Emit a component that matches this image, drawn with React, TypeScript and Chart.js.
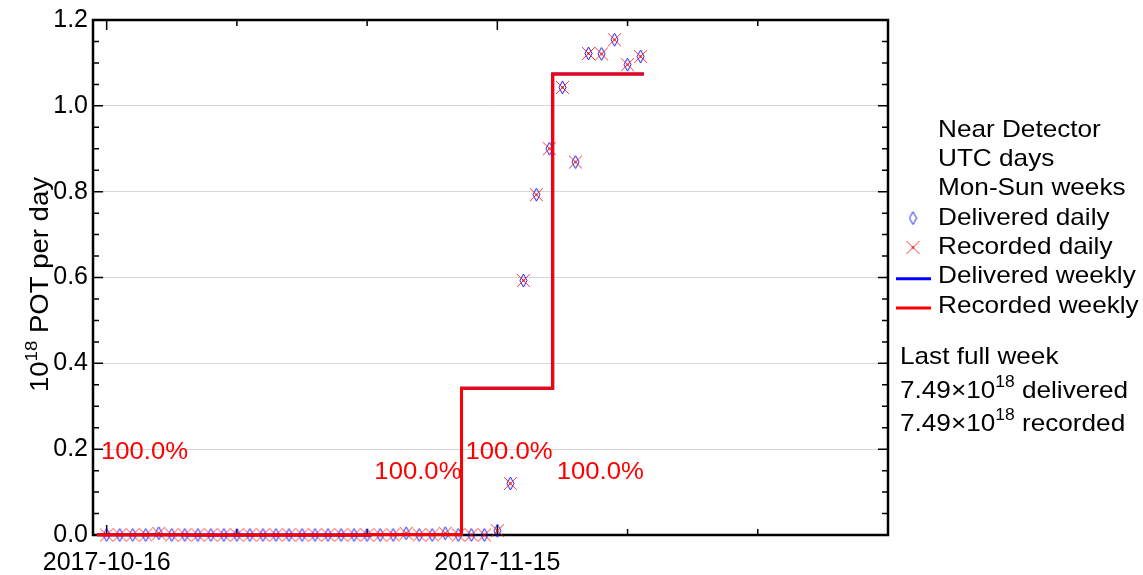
import React, { useEffect, useRef } from 'react';
import { Chart, registerables } from 'chart.js';

Chart.register(...registerables);

// ---------------- data ----------------
const startDate = '2017-10-16';
const dailyDays = [
  0, 1, 2, 3, 4, 5, 6, 7, 8, 9, 10, 11, 12, 13, 14, 15, 16, 17, 18, 19, 20,
  21, 22, 23, 24, 25, 26, 27, 28, 29, 30, 31, 32, 33, 34, 35, 36, 37, 38, 39, 40, 41,
];
const deliveredDaily = [
  0, 0, 0, 0, 0.004, 0, 0, 0, 0, 0, 0, 0, 0, 0, 0, 0, 0, 0, 0, 0, 0,
  0, 0, 0.004, 0, 0, 0.004, 0, 0, 0, 0.01, 0.12, 0.593, 0.793, 0.9, 1.043, 0.869, 1.122, 1.121, 1.154, 1.096, 1.115,
];
const recordedDaily = [
  0, 0, 0, 0, 0.004, 0, 0, 0, 0, 0, 0, 0, 0, 0, 0, 0, 0, 0, 0, 0, 0,
  0, 0, 0.004, 0, 0, 0.004, 0, 0, 0, 0.01, 0.12, 0.593, 0.793, 0.9, 1.043, 0.869, 1.122, 1.121, 1.154, 1.096, 1.115,
];
const weekStarts = ['2017-10-16', '2017-10-23', '2017-10-30', '2017-11-06', '2017-11-13', '2017-11-20'];
const deliveredWeekly = [0.0006, 0, 0, 0.0011, 0.342, 1.074];
const recordedWeekly = [0.0006, 0, 0, 0.0011, 0.342, 1.074];
const xTickDays = [0, 10, 20, 30, 40, 50, 60];
const xLabelDays = [0, 30];
const yTickValues = [0, 0.2, 0.4, 0.6, 0.8, 1.0, 1.2];
const infoLines = ['Near Detector', 'UTC days', 'Mon-Sun weeks'];
const seriesNames = ['Delivered daily', 'Recorded daily', 'Delivered weekly', 'Recorded weekly'];
const lastWeekTitle = 'Last full week';
const lastWeekDelivered = '7.49';
const lastWeekRecorded = '7.49';
const lastWeekExponent = '18';

// ---------------- helpers ----------------
const FONT = '"Liberation Sans", Arial, Helvetica, sans-serif';
const DAY_MS = 86400000;
const WEEK_SHIFT = -0.75;
const t0 = Date.parse(startDate + 'T00:00:00Z');
const dayOf = (s: string) => (Date.parse(s + 'T00:00:00Z') - t0) / DAY_MS;
const fmtDay = (d: number) => new Date(t0 + d * DAY_MS).toISOString().slice(0, 10);

function makeDiamond(): HTMLCanvasElement {
  const c = document.createElement('canvas');
  c.width = 9;
  c.height = 15;
  const g = c.getContext('2d')!;
  g.strokeStyle = '#1a1aff';
  g.lineWidth = 1;
  g.beginPath();
  g.moveTo(4.5, 1);
  g.lineTo(8, 7.5);
  g.lineTo(4.5, 14);
  g.lineTo(1, 7.5);
  g.closePath();
  g.stroke();
  return c;
}

function makeCross(): HTMLCanvasElement {
  const c = document.createElement('canvas');
  c.width = 15;
  c.height = 15;
  const g = c.getContext('2d')!;
  g.strokeStyle = 'rgba(255,30,30,0.9)';
  g.lineWidth = 1;
  g.beginPath();
  g.moveTo(1, 1);
  g.lineTo(14, 14);
  g.moveTo(14, 1);
  g.lineTo(1, 14);
  g.stroke();
  g.fillStyle = '#d00000';
  g.fillRect(6.5, 6.5, 2, 2);
  return c;
}

type Part = { t: string; sup?: boolean };

function drawRich(ctx: CanvasRenderingContext2D, parts: Part[], x: number, y: number, size: number, sx: number, color: string) {
  ctx.save();
  ctx.translate(x, y);
  ctx.scale(sx, 1);
  ctx.fillStyle = color;
  ctx.textAlign = 'left';
  ctx.textBaseline = 'alphabetic';
  let cx = 0;
  for (const p of parts) {
    const fs = p.sup ? Math.round(size * 0.68) : size;
    ctx.font = `${fs}px ${FONT}`;
    ctx.fillText(p.t, cx, p.sup ? -size * 0.45 : 0);
    cx += ctx.measureText(p.t).width;
  }
  ctx.restore();
}

export default function App() {
  const ref = useRef<HTMLCanvasElement>(null);

  useEffect(() => {
    document.body.style.margin = '0';
    const diamond = makeDiamond();
    const cross = makeCross();

    const weeklyLine = (vals: number[]) =>
      weekStarts.flatMap((w, i) => [
        { x: dayOf(w) + WEEK_SHIFT, y: vals[i] },
        { x: dayOf(w) + 7 + WEEK_SHIFT, y: vals[i] },
      ]);

    const decor = {
      id: 'decor',
      beforeDatasetsDraw(chart: any) {
        const { ctx, chartArea: a, scales } = chart;
        const xs = scales.x;
        const ys = scales.y;
        ctx.save();
        ctx.strokeStyle = '#000';
        ctx.lineWidth = 1.5;
        for (let k = 0; k <= 24; k++) {
          const v = k * 0.05;
          const py = ys.getPixelForValue(v);
          const len = k % 4 === 0 ? 10 : 6;
          ctx.beginPath();
          ctx.moveTo(a.left, py);
          ctx.lineTo(a.left + len, py);
          ctx.moveTo(a.right, py);
          ctx.lineTo(a.right - len, py);
          ctx.stroke();
        }
        for (const d of xTickDays) {
          const px = xs.getPixelForValue(d);
          const len = d % 30 === 0 ? 10 : 6;
          ctx.beginPath();
          ctx.moveTo(px, a.bottom);
          ctx.lineTo(px, a.bottom - len);
          ctx.moveTo(px, a.top);
          ctx.lineTo(px, a.top + len);
          ctx.stroke();
        }
        ctx.lineWidth = 2.5;
        ctx.strokeRect(a.left, a.top, a.right - a.left, a.bottom - a.top);
        ctx.restore();
      },
      afterDraw(chart: any) {
        const { ctx, scales } = chart;
        const xs = scales.x;
        const ys = scales.y;
        weekStarts.forEach((w, i) => {
          if (deliveredWeekly[i] <= 0) return;
          const txt = ((recordedWeekly[i] / deliveredWeekly[i]) * 100).toFixed(1) + '%';
          const px = xs.getPixelForValue(dayOf(w) + WEEK_SHIFT) + 4;
          const py = ys.getPixelForValue(i % 2 === 0 ? 0.177 : 0.131);
          drawRich(ctx, [{ t: txt }], px, py, 24, 1.07, '#ff0000');
        });
        ctx.save();
        ctx.translate(48, 392);
        ctx.rotate(-Math.PI / 2);
        drawRich(ctx, [{ t: '10' }, { t: '18', sup: true }, { t: ' POT per day' }], 0, 0, 25, 1.1, '#000');
        ctx.restore();
        const lx = 938;
        const base = 136.7;
        const step = 29.3;
        const labels = [...infoLines, ...seriesNames];
        labels.forEach((t, i) => drawRich(ctx, [{ t }], lx, base + i * step, 24, 1.09, '#000'));
        ctx.drawImage(diamond, 913 - diamond.width / 2, base + 3 * step - 6.5 - diamond.height / 2);
        ctx.drawImage(cross, 913 - cross.width / 2, base + 4 * step - 6.5 - cross.height / 2);
        ctx.save();
        ctx.lineWidth = 3;
        ctx.strokeStyle = '#0000ff';
        ctx.beginPath();
        ctx.moveTo(896, base + 5 * step - 4.5);
        ctx.lineTo(931, base + 5 * step - 4.5);
        ctx.stroke();
        ctx.strokeStyle = '#ff0000';
        ctx.beginPath();
        ctx.moveTo(896, base + 6 * step - 4.5);
        ctx.lineTo(931, base + 6 * step - 4.5);
        ctx.stroke();
        ctx.restore();
        drawRich(ctx, [{ t: lastWeekTitle }], 900, 364, 24, 1.09, '#000');
        drawRich(ctx, [{ t: lastWeekDelivered + '\u00d710' }, { t: lastWeekExponent, sup: true }, { t: ' delivered' }], 900, 398, 24, 1.09, '#000');
        drawRich(ctx, [{ t: lastWeekRecorded + '\u00d710' }, { t: lastWeekExponent, sup: true }, { t: ' recorded' }], 900, 431, 24, 1.09, '#000');
      },
    };

    const chart = new Chart(ref.current!, {
      type: 'scatter',
      data: {
        datasets: [
          {
            label: seriesNames[3],
            data: weeklyLine(recordedWeekly),
            showLine: true,
            borderColor: '#ff0000',
            borderWidth: 3,
            pointRadius: 0,
            clip: false,
          } as any,
          {
            label: seriesNames[2],
            data: weeklyLine(deliveredWeekly),
            showLine: true,
            borderColor: '#0000ff',
            borderWidth: 3,
            pointRadius: 0,
            clip: false,
          },
          {
            label: seriesNames[1],
            data: dailyDays.map((d, i) => ({ x: d, y: recordedDaily[i] })),
            pointStyle: cross,
            pointRadius: 7,
            clip: false,
          },
          {
            label: seriesNames[0],
            data: dailyDays.map((d, i) => ({ x: d, y: deliveredDaily[i] })),
            pointStyle: diamond,
            pointRadius: 7,
            clip: false,
          },
        ],
      },
      options: {
        animation: false,
        responsive: false,
        maintainAspectRatio: false,
        layout: { padding: { top: 20, right: 255, left: 0, bottom: 0 } },
        plugins: { legend: { display: false }, tooltip: { enabled: false } },
        scales: {
          x: {
            type: 'linear',
            min: -1.05,
            max: 60,
            afterBuildTicks: (s: any) => {
              s.ticks = xTickDays.map((v) => ({ value: v }));
            },
            afterFit: (s: any) => {
              s.height = 40;
            },
            grid: { display: false, drawTicks: false },
            border: { display: false },
            ticks: {
              autoSkip: false,
              maxRotation: 0,
              padding: 13,
              color: '#000',
              font: { family: FONT, size: 25 },
              callback: (v: any) => (xLabelDays.includes(Number(v)) ? fmtDay(Number(v)) : ''),
            },
          },
          y: {
            min: 0,
            max: 1.2,
            afterBuildTicks: (s: any) => {
              s.ticks = yTickValues.map((v) => ({ value: v }));
            },
            afterFit: (s: any) => {
              s.width = 93;
            },
            grid: { color: '#d6d6d6', lineWidth: 1, drawTicks: false },
            border: { display: false },
            ticks: {
              padding: 5,
              color: '#000',
              font: { family: FONT, size: 25 },
              callback: (v: any) => Number(v).toFixed(1),
            },
          },
        },
      } as any,
      plugins: [decor],
    });
    return () => chart.destroy();
  }, []);

  return <canvas ref={ref} width={1143} height={575} style={{ display: 'block' }} />;
}
